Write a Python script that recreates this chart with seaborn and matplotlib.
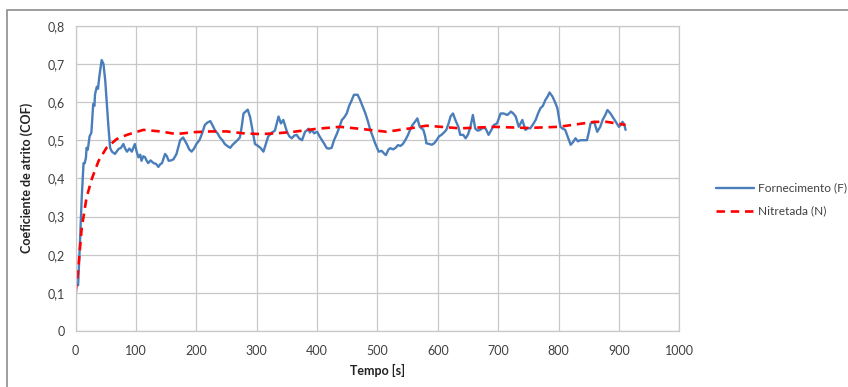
import numpy as np
import pandas as pd
import matplotlib
matplotlib.use("Agg")
import matplotlib.pyplot as plt
import seaborn as sns
from matplotlib.ticker import FuncFormatter
from matplotlib.patches import Rectangle

# Fornecimento (F)
tempo_f = [0, 4, 7, 10, 13, 15, 17, 18, 20, 23, 26, 29, 31, 32, 35, 37, 39, 43, 46, 49,
           51, 54, 57, 60, 65, 71, 75, 79, 82, 85, 89, 93, 98, 101, 104, 107, 109, 112, 115, 118,
           120, 124, 129, 133, 137, 140, 143, 148, 151, 154, 158, 162, 167, 173, 178, 184, 188, 192, 196, 200,
           205, 209, 214, 218, 223, 227, 231, 235, 239, 243, 247, 251, 256, 260, 264, 268, 272, 275, 278, 285,
           289, 292, 297, 302, 306, 311, 315, 319, 325, 330, 336, 340, 344, 350, 354, 358, 362, 366, 370, 375,
           380, 386, 388, 391, 395, 400, 404, 408, 412, 416, 420, 424, 428, 433, 437, 441, 445, 449, 453, 456,
           461, 467, 471, 475, 480, 484, 488, 492, 496, 502, 507, 511, 514, 518, 521, 526, 530, 534, 538, 542,
           546, 550, 554, 558, 562, 566, 570, 576, 579, 581, 586, 590, 594, 598, 602, 606, 610, 614, 618, 621,
           625, 629, 634, 637, 642, 646, 650, 654, 658, 662, 666, 670, 674, 679, 684, 688, 693, 698, 704, 709,
           715, 718, 721, 725, 729, 734, 740, 745, 749, 753, 757, 762, 766, 770, 774, 778, 782, 785, 790, 794,
           798, 803, 807, 811, 815, 820, 824, 828, 832, 836, 841, 847, 850, 853, 859, 864, 869, 873, 877, 881,
           886, 890, 895, 900, 903, 906, 909, 911]
cof_f = [0.124, 0.12, 0.23, 0.35, 0.44, 0.44, 0.455, 0.48, 0.475, 0.51, 0.52, 0.595, 0.59, 0.62, 0.64, 0.635, 0.665, 0.71, 0.70, 0.655,
         0.61, 0.54, 0.48, 0.47, 0.464, 0.477, 0.48, 0.49, 0.478, 0.47, 0.478, 0.47, 0.49, 0.47, 0.455, 0.462, 0.446, 0.458, 0.455, 0.445,
         0.44, 0.447, 0.44, 0.438, 0.43, 0.437, 0.44, 0.464, 0.458, 0.446, 0.447, 0.45, 0.464, 0.50, 0.507, 0.49, 0.476, 0.47, 0.478, 0.49,
         0.50, 0.516, 0.54, 0.546, 0.55, 0.538, 0.525, 0.518, 0.507, 0.50, 0.49, 0.485, 0.48, 0.488, 0.494, 0.50, 0.507, 0.535, 0.57, 0.58,
         0.56, 0.534, 0.49, 0.485, 0.48, 0.47, 0.49, 0.51, 0.52, 0.525, 0.562, 0.544, 0.553, 0.522, 0.51, 0.505, 0.512, 0.514, 0.505, 0.50,
         0.522, 0.53, 0.52, 0.527, 0.518, 0.522, 0.51, 0.50, 0.49, 0.479, 0.478, 0.48, 0.50, 0.518, 0.535, 0.553, 0.56, 0.57, 0.59, 0.60,
         0.619, 0.619, 0.606, 0.59, 0.57, 0.55, 0.527, 0.51, 0.492, 0.47, 0.472, 0.465, 0.461, 0.475, 0.479, 0.476, 0.48, 0.487, 0.485, 0.49,
         0.50, 0.512, 0.527, 0.54, 0.548, 0.557, 0.535, 0.527, 0.51, 0.492, 0.49, 0.488, 0.492, 0.50, 0.51, 0.514, 0.52, 0.527, 0.545, 0.562,
         0.57, 0.553, 0.535, 0.514, 0.514, 0.505, 0.515, 0.535, 0.566, 0.53, 0.525, 0.527, 0.532, 0.531, 0.514, 0.525, 0.54, 0.544, 0.57, 0.57,
         0.566, 0.57, 0.575, 0.57, 0.562, 0.535, 0.553, 0.527, 0.532, 0.531, 0.54, 0.553, 0.57, 0.584, 0.59, 0.605, 0.615, 0.625, 0.614, 0.60,
         0.584, 0.535, 0.53, 0.527, 0.51, 0.488, 0.495, 0.505, 0.497, 0.50, 0.50, 0.50, 0.52, 0.544, 0.548, 0.522, 0.535, 0.553, 0.565, 0.579,
         0.57, 0.56, 0.548, 0.535, 0.54, 0.548, 0.54, 0.527]

# Nitretada (N)
tempo_n = [0, 4, 10, 18, 27, 38, 51, 68, 85, 112, 140, 167, 195, 223, 250, 278, 306, 333, 361, 400,
           438, 470, 515, 554, 581, 637, 693, 748, 800, 859, 880, 911]
cof_n = [0.10, 0.16, 0.27, 0.35, 0.40, 0.446, 0.48, 0.503, 0.514, 0.527, 0.523, 0.516, 0.521, 0.523, 0.523, 0.518, 0.516, 0.518, 0.522, 0.53,
         0.535, 0.53, 0.522, 0.531, 0.538, 0.531, 0.535, 0.532, 0.535, 0.548, 0.548, 0.54]

x_ticks = list(range(0, 1001, 100))
y_ticks = [0, 0.1, 0.2, 0.3, 0.4, 0.5, 0.6, 0.7, 0.8]

sns.set_style("white")
plt.rcParams['font.family'] = ['Lato', 'DejaVu Sans']

fig = plt.figure(figsize=(8.48, 3.87), dpi=100)
ax = fig.add_axes([75.7 / 848, 1 - 331 / 387, (679.3 - 75.7) / 848, (331 - 25.7) / 387])

# chart area border (Excel style)
fig.patches.append(Rectangle((7 / 848, -0.1), 2, 1 - 10 / 387 + 0.1, transform=fig.transFigure,
                             fill=False, edgecolor='#8c8c8c', linewidth=1.2))

df_f = pd.DataFrame({'Tempo': tempo_f, 'COF': cof_f})
df_n = pd.DataFrame({'Tempo': tempo_n, 'COF': cof_n})

sns.lineplot(data=df_f, x='Tempo', y='COF', ax=ax, color='#4A7EBB', linewidth=1.7,
             label='Fornecimento (F)', estimator=None)
sns.lineplot(data=df_n, x='Tempo', y='COF', ax=ax, color='#FF0000', linewidth=1.9,
             label='Nitretada (N)', estimator=None, dashes=False)
ax.lines[-1].set_dashes([3.2, 2.2])

ax.set_xlim(0, 1000)
ax.set_ylim(0, 0.8)
ax.set_xticks(x_ticks)
ax.set_yticks(y_ticks)
ax.yaxis.set_major_formatter(FuncFormatter(lambda v, p: '0' if v == 0 else f'{v:.1f}'.replace('.', ',')))
ax.grid(True, color='#c8c8c8', linewidth=0.9)
for s in ax.spines.values():
    s.set_color('#c8c8c8')
    s.set_linewidth(0.9)
ax.tick_params(axis='both', length=0, labelsize=9, colors='#404040', pad=8)
ax.tick_params(axis='x', pad=10)

ax.set_xlabel('Tempo [s]', fontsize=9, fontweight='bold', labelpad=5, color='#222222')
ax.set_ylabel('Coeficiente de atrito (COF)', fontsize=9, fontweight='bold', labelpad=10, color='#222222')

leg = ax.legend(loc='center left', bbox_to_anchor=(1.043, 0.43), frameon=False, fontsize=8.6,
                handlelength=3.2, handletextpad=0.3, labelspacing=1.0)
for t in leg.get_texts():
    t.set_color('#404040')

fig.savefig('out.png', dpi=100)
